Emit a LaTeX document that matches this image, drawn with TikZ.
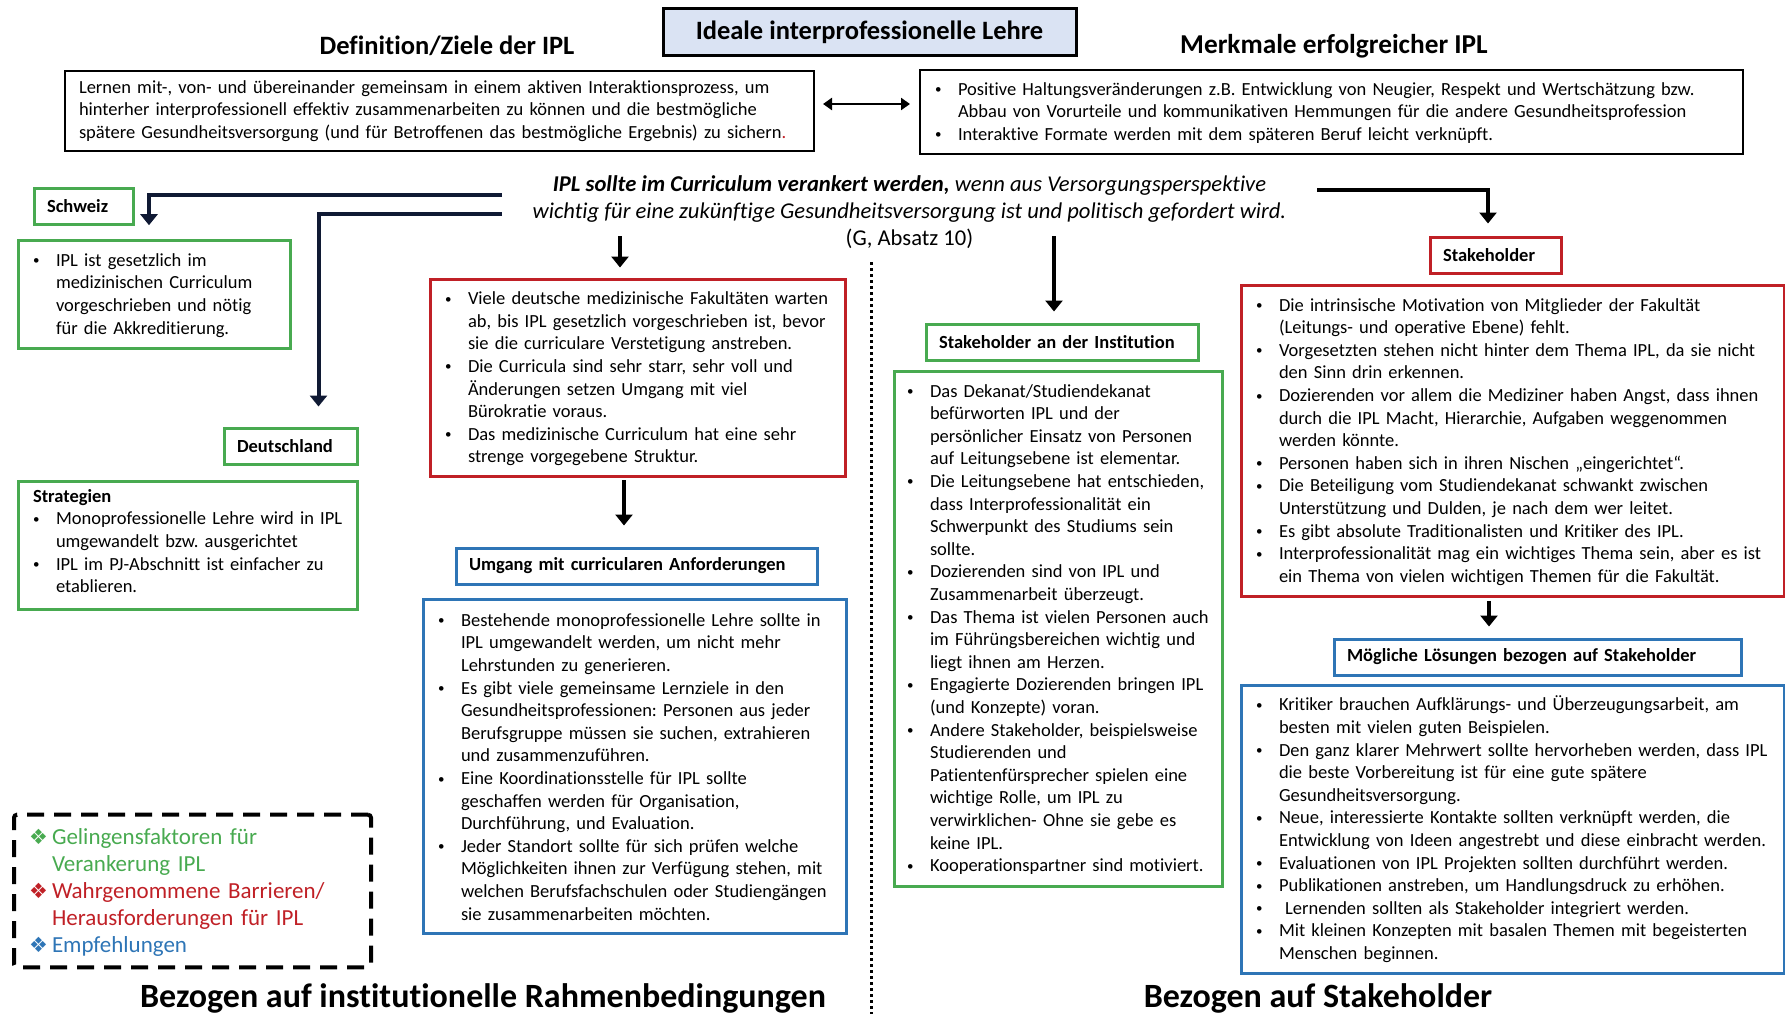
\documentclass[tikz,border=0pt]{standalone}
\usepackage{fontspec}
\setmainfont{Carlito}[Ligatures=NoCommon]
\newfontfamily\symfont{DejaVu Sans}
\usepackage{enumitem}
\usetikzlibrary{arrows.meta}
\frenchspacing

\definecolor{iplgreen}{RGB}{72,170,80}
\definecolor{iplred}{RGB}{192,32,38}
\definecolor{iplblue}{RGB}{46,117,182}
\definecolor{iplnavy}{RGB}{16,26,52}
\definecolor{titlefill}{RGB}{218,227,243}

\def\bodysize{\fontsize{18.5}{22.6}\selectfont}
\def\headsize{\fontsize{26.5}{30}\selectfont\bfseries}
\def\legmark#1{\item[\rlap{\textcolor{#1}{\symfont\fontsize{21}{21}\selectfont ❖}}]\color{#1}\ignorespaces}
\setlist[itemize]{label={\raisebox{1.5pt}{\fontsize{13}{13}\selectfont\textbullet}}, nosep, leftmargin=23pt, labelwidth=10pt, labelsep=13pt, align=left}

\tikzset{
	textbox/.style={draw, line width=3pt, inner xsep=15pt, inner ysep=3pt, align=left, font=\bodysize},
	listbox/.style={textbox, execute at end node={\par\vspace{8pt}}},
	blackbox/.style={line width=2pt},
	headbox/.style={draw, line width=3pt, inner xsep=13pt, inner ysep=3pt, minimum height=36pt, align=left, font=\bodysize\bfseries},
	legendbox/.style={draw, line width=4pt, dash pattern=on 17pt off 10pt, rounded corners=3pt, inner xsep=15pt, align=left, font=\fontsize{23}{26.8}\selectfont, execute at end node={\par\vspace{8pt}}},
	heading/.style={font=\headsize, inner sep=0pt},
	footheading/.style={font=\fontsize{34}{40}\selectfont\bfseries, inner sep=0pt},
	arr/.style={line width=4pt, -{Triangle[length=11pt,width=17pt]}},
	navyarr/.style={arr, draw=iplnavy},
	dblarr/.style={line width=2.5pt, {Triangle[length=9pt,width=12pt]}-{Triangle[length=9pt,width=12pt]}},
	divider/.style={line width=3pt, dash pattern=on 3pt off 3pt},
}

\begin{document}
\begin{tikzpicture}[x=1pt, y=-1pt]
	%%%%% START %%%%%
	\useasboundingbox (0,0) rectangle (1785,1014);
	
	% top row
	\node[draw, line width=3pt, fill=titlefill, minimum width=413pt, minimum height=47pt, font=\headsize] (title) at (869.5,32.5) {Ideale interprofessionelle Lehre};
	\node[heading] (defhead) at (447,46) {Definition/Ziele der IPL};
	\node[heading, font=\fontsize{27.3}{30}\selectfont\bfseries] (merkhead) at (1334,46) {Merkmale erfolgreicher IPL};
	
	\node[textbox, blackbox, inner xsep=14pt, text width=721pt, minimum height=80pt] (defbox) at (439.5,111) {Lernen mit-, von- und übereinander gemeinsam in einem aktiven Interaktionsprozess, um\newline hinterher interprofessionell effektiv zusammenarbeiten zu können und die bestmögliche\newline spätere Gesundheitsversorgung (und für Betroffenen das bestmögliche Ergebnis) zu sichern\textcolor{iplred}{.}};
	\node[listbox, blackbox, text width=793pt, minimum height=82pt] (merkbox) at (1331.5,112) {\begin{itemize}
		\item Positive Haltungsveränderungen z.B. Entwicklung von Neugier, Respekt und Wertschätzung bzw.\newline Abbau von Vorurteile und kommunikativen Hemmungen für die andere Gesundheitsprofession
		\item Interaktive Formate werden mit dem späteren Beruf leicht verknüpft.
	\end{itemize}};
	\coordinate (dl) at ([xshift=8pt,yshift=7pt]defbox.east);
	\draw[dblarr, shorten >=9pt] (dl) -- (dl -| merkbox.west);
	
	% central statement
	\node[font=\fontsize{22.6}{27}\selectfont, align=center, inner sep=0pt] (ipl) at (909.5,212) {\textbf{\textit{IPL sollte im Curriculum verankert werden,}} \textit{wenn aus Versorgungsperspektive}\\ \textit{wichtig für eine zukünftige Gesundheitsversorgung ist und politisch gefordert wird.}\\ (G, Absatz 10)};
	\coordinate (jl1) at (502,195);
	\coordinate (jl2) at (502,214);
	\coordinate (jc1) at (620,236);
	\coordinate (jc2) at (1054,236);
	\coordinate (jr1) at (1317,190);
	
	% Schweiz / Deutschland
	\node[headbox, draw=iplgreen, text width=73pt] (chhead) at (83.5,206) {Schweiz};
	\node[listbox, draw=iplgreen, text width=242pt, minimum height=105pt] (chbox) at (154,294.5) {\begin{itemize}
		\item IPL ist gesetzlich im\newline medizinischen Curriculum\newline vorgeschrieben und nötig\newline für die Akkreditierung.
	\end{itemize}};
	\node[headbox, draw=iplgreen, text width=107pt] (dehead) at (290.5,446) {Deutschland};
	\node[listbox, draw=iplgreen, text width=309pt, minimum height=128pt] (debox) at (187.5,545) {\textbf{Strategien}
	\begin{itemize}
		\item \leavevmode\rlap{Monoprofessionelle Lehre wird in IPL}\newline umgewandelt bzw. ausgerichtet
		\item IPL im PJ-Abschnitt ist einfacher zu\newline etablieren.
	\end{itemize}};
	\draw[navyarr, shorten >=14pt] (jl1) -| ([xshift=-5pt]chbox.north);
	\draw[navyarr, shorten >=20pt] (jl2) -| ([xshift=28pt]dehead.north);
	
	% institutionelle Rahmenbedingungen
	\node[listbox, draw=iplred, text width=385pt, minimum height=196pt] (redA) at (637.5,378) {\begin{itemize}
		\item Viele deutsche medizinische Fakultäten warten\newline ab, bis IPL gesetzlich vorgeschrieben ist, bevor\newline sie die curriculare Verstetigung anstreben.
		\item Die Curricula sind sehr starr, sehr voll und\newline Änderungen setzen Umgang mit viel\newline Bürokratie voraus.
		\item Das medizinische Curriculum hat eine sehr\newline strenge vorgegebene Struktur.
	\end{itemize}};
	\node[headbox, draw=iplblue, text width=335pt] (umghead) at (636.5,566) {Umgang mit curricularen Anforderungen};
	\node[listbox, draw=iplblue, text width=393pt, minimum height=334pt] (blueA) at (634.5,766) {\begin{itemize}
		\item Bestehende monoprofessionelle Lehre sollte in\newline IPL umgewandelt werden, um nicht mehr\newline Lehrstunden zu generieren.
		\item Es gibt viele gemeinsame Lernziele in den\newline Gesundheitsprofessionen: Personen aus jeder\newline Berufsgruppe müssen sie suchen, extrahieren\newline und zusammenzuführen.
		\item Eine Koordinationsstelle für IPL sollte\newline geschaffen werden für Organisation,\newline Durchführung, und Evaluation.
		\item Jeder Standort sollte für sich prüfen welche\newline Möglichkeiten ihnen zur Verfügung stehen, mit\newline welchen Berufsfachschulen oder Studiengängen\newline sie zusammenarbeiten möchten.
	\end{itemize}};
	\draw[arr, shorten >=10pt] (jc1) -- (jc1 |- redA.north);
	\coordinate (ra) at ([xshift=-13.5pt]redA.south);
	\draw[arr, shorten <=2pt, shorten >=21pt] (ra) -- (ra |- umghead.north);
	
	\draw[divider] (871,262) -- (871,1014);
	
	% Stakeholder
	\node[headbox, draw=iplgreen, text width=246pt] (insthead) at (1062,342) {Stakeholder an der Institution};
	\node[listbox, draw=iplgreen, inner xsep=13pt, text width=302pt, minimum height=515pt] (greenA) at (1058,628.5) {\begin{itemize}
		\item Das Dekanat/Studiendekanat\newline befürworten IPL und der\newline persönlicher Einsatz von Personen\newline auf Leitungsebene ist elementar.
		\item Die Leitungsebene hat entschieden,\newline dass Interprofessionalität ein\newline Schwerpunkt des Studiums sein\newline sollte.
		\item Dozierenden sind von IPL und\newline Zusammenarbeit überzeugt.
		\item Das Thema ist vielen Personen auch\newline im Führüngsbereichen wichtig und\newline liegt ihnen am Herzen.
		\item Engagierte Dozierenden bringen IPL\newline (und Konzepte) voran.
		\item Andere Stakeholder, beispielsweise\newline Studierenden und\newline Patientenfürsprecher spielen eine\newline wichtige Rolle, um IPL zu\newline verwirklichen- Ohne sie gebe es\newline keine IPL.
		\item Kooperationspartner sind motiviert.
	\end{itemize}};
	\draw[arr, shorten >=11pt] (jc2) -- (jc2 |- insthead.north);
	
	\node[headbox, draw=iplred, text width=105pt] (stakehead) at (1495.5,255) {Stakeholder};
	\node[listbox, draw=iplred, text width=513pt, minimum height=308pt] (redB) at (1512.5,441) {\begin{itemize}
		\item Die intrinsische Motivation von Mitglieder der Fakultät\newline (Leitungs- und operative Ebene) fehlt.
		\item Vorgesetzten stehen nicht hinter dem Thema IPL, da sie nicht\newline den Sinn drin erkennen.
		\item Dozierenden vor allem die Mediziner haben Angst, dass ihnen\newline durch die IPL Macht, Hierarchie, Aufgaben weggenommen\newline werden könnte.
		\item Personen haben sich in ihren Nischen „eingerichtet“.
		\item Die Beteiligung vom Studiendekanat schwankt zwischen\newline Unterstützung und Dulden, je nach dem wer leitet.
		\item Es gibt absolute Traditionalisten und Kritiker des IPL.
		\item Interprofessionalität mag ein wichtiges Thema sein, aber es ist\newline ein Thema von vielen wichtigen Themen für die Fakultät.
	\end{itemize}};
	\draw[arr, shorten >=12pt] (jr1) -| ([xshift=-7.5pt]stakehead.north);
	
	\node[headbox, draw=iplblue, text width=381pt] (loeshead) at (1537.5,657) {Mögliche Lösungen bezogen auf Stakeholder};
	\node[listbox, draw=iplblue, text width=513pt, minimum height=287pt] (blueB) at (1512.5,829.5) {\begin{itemize}
		\item Kritiker brauchen Aufklärungs- und Überzeugungsarbeit, am\newline besten mit vielen guten Beispielen.
		\item Den ganz klarer Mehrwert sollte hervorheben werden, dass IPL\newline die beste Vorbereitung ist für eine gute spätere\newline Gesundheitsversorgung.
		\item Neue, interessierte Kontakte sollten verknüpft werden, die\newline Entwicklung von Ideen angestrebt und diese einbracht werden.
		\item Evaluationen von IPL Projekten sollten durchführt werden.
		\item Publikationen anstreben, um Handlungsdruck zu erhöhen.
		\item \ Lernenden sollten als Stakeholder integriert werden.
		\item Mit kleinen Konzepten mit basalen Themen mit begeisterten\newline Menschen beginnen.
	\end{itemize}};
	\coordinate (rb) at ([xshift=-23.5pt]redB.south);
	\draw[arr, shorten <=3pt, shorten >=11pt] (rb) -- (rb |- loeshead.north);
	
	% legend
	\node[legendbox, text width=327pt, minimum height=152pt] (legend) at (192.5,891) {\begin{itemize}
		\legmark{iplgreen}Gelingensfaktoren für\newline Verankerung IPL
		\legmark{iplred}Wahrgenommene Barrieren/\newline Herausforderungen für IPL
		\legmark{iplblue}Empfehlungen
	\end{itemize}};
	
	\node[footheading] (instfoot) at (483,998) {Bezogen auf institutionelle Rahmenbedingungen};
	\node[footheading] (stakefoot) at (1318,998) {Bezogen auf Stakeholder};
	
	%%%%% END %%%%%
\end{tikzpicture}
\end{document}
